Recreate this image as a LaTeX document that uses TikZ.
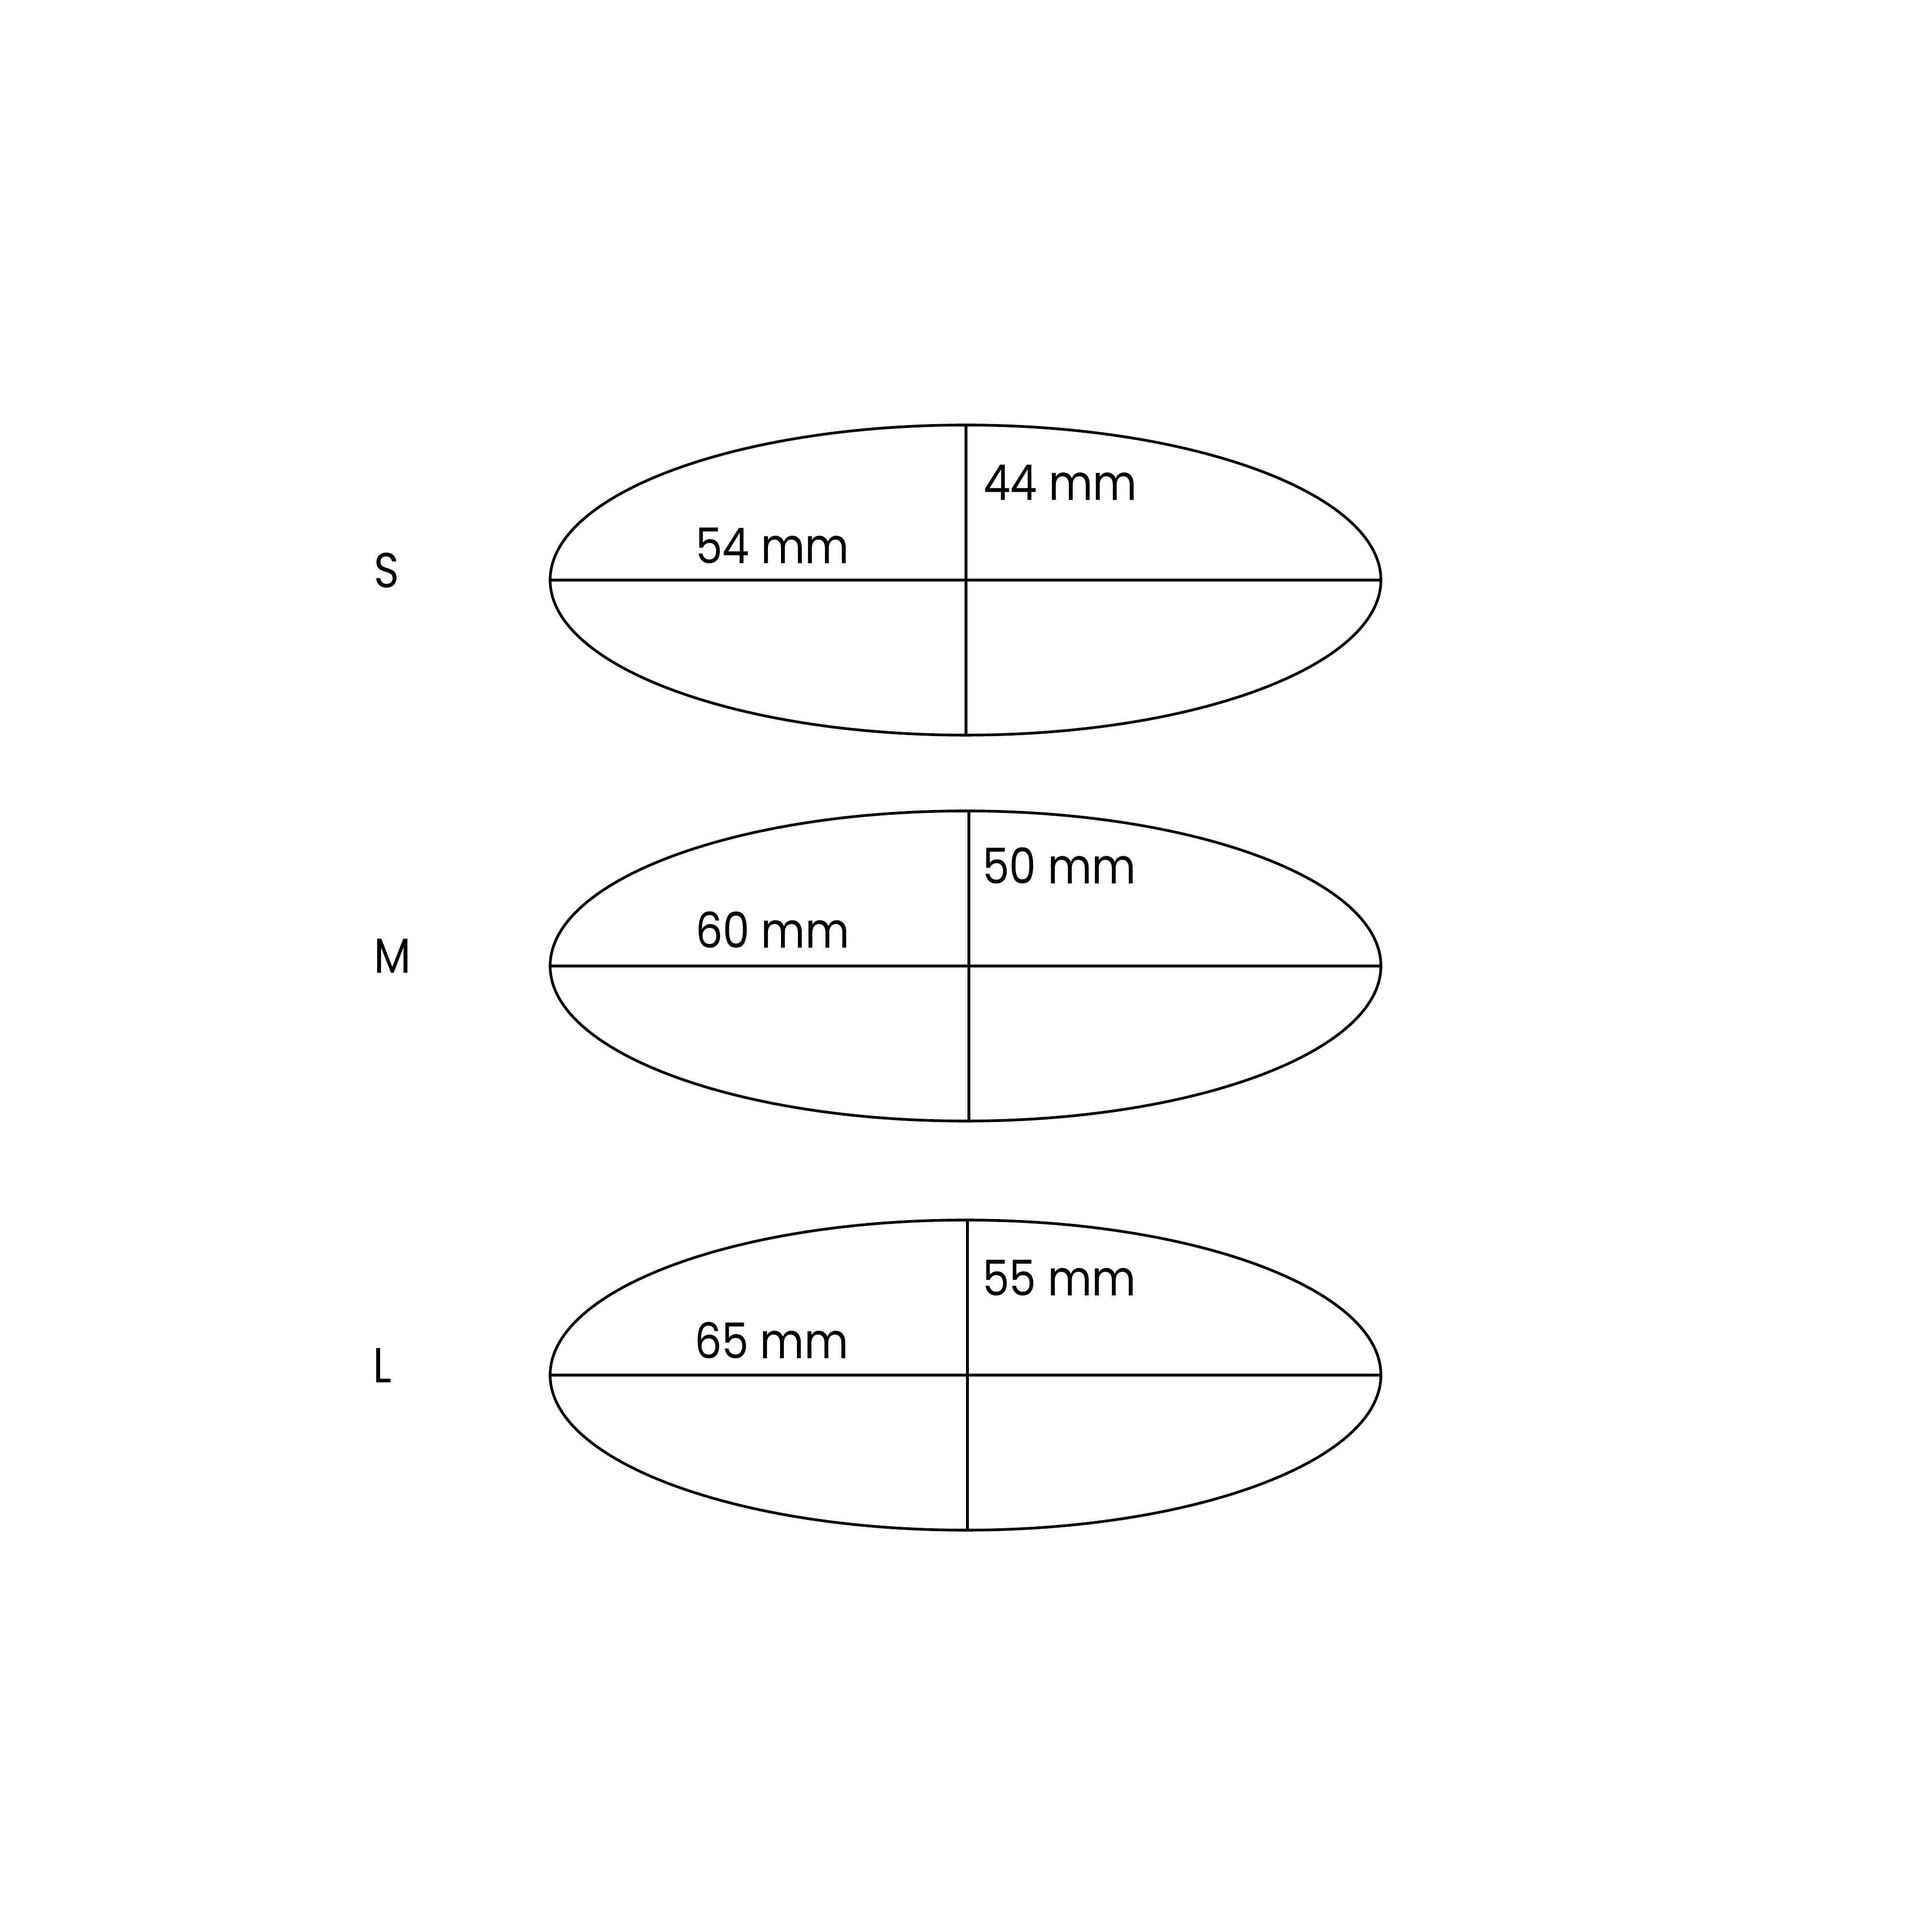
\documentclass[tikz,border=0pt]{standalone}
\usepackage{fontspec}
\setmainfont{Poppins}[FakeStretch=0.87]
\usetikzlibrary{shapes.geometric}
\begin{document}
\begin{tikzpicture}[x=1cm,y=1cm,
  oval/.style={draw=black, line width=1.6pt, shape=ellipse, inner sep=0pt, outer sep=0pt,
               minimum width=17.2cm, minimum height=6.42cm},
  axis/.style={draw=black, line width=1.6pt},
  lbl/.style={anchor=base west, inner sep=0pt, outer sep=0pt, font=\fontsize{29}{34}\selectfont}]
\useasboundingbox (0,0) rectangle (40,40);
\fill[white] (0,0) rectangle (40,40);
% S
\node[oval] (eS) at (19.99,27.99) {};
\draw[axis] (eS.west) -- (eS.east);
\draw[axis] (20.00,31.20) coordinate (sT) -- (20.00,24.78) coordinate (sB);
\node[lbl] (tS) at (7.74,27.83) {S};
\node[lbl] (wS) at (14.40,28.33) {54 mm};
\node[lbl] (hS) at (20.36,29.64) {44 mm};
% M
\node[oval] (eM) at (19.99,20.00) {};
\draw[axis] (eM.west) -- (eM.east);
\draw[axis] (20.06,23.21) coordinate (mT) -- (20.06,16.79) coordinate (mB);
\node[lbl] (tM) at (7.74,19.85) {M};
\node[lbl] (wM) at (14.40,20.37) {60 mm};
\node[lbl] (hM) at (20.34,21.70) {50 mm};
% L
\node[oval] (eL) at (19.99,11.53) {};
\draw[axis] (eL.west) -- (eL.east);
\draw[axis] (20.03,14.74) coordinate (lT) -- (20.03,8.32) coordinate (lB);
\node[lbl] (tL) at (7.72,11.37) {L};
\node[lbl] (wL) at (14.38,11.87) {65 mm};
\node[lbl] (hL) at (20.34,13.17) {55 mm};
\end{tikzpicture}
\end{document}
